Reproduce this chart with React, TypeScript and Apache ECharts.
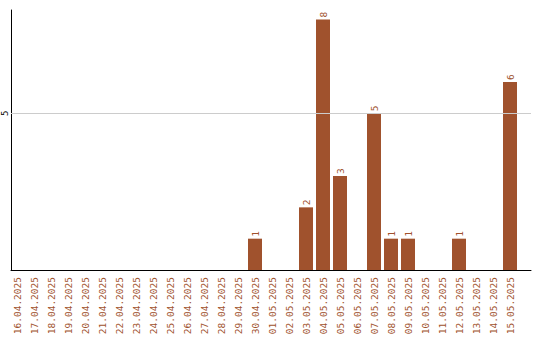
import React, { useEffect, useRef } from "react";
import * as echarts from "echarts";

const categories = [
  "16.04.2025", "17.04.2025", "18.04.2025", "19.04.2025", "20.04.2025",
  "21.04.2025", "22.04.2025", "23.04.2025", "24.04.2025", "25.04.2025",
  "26.04.2025", "27.04.2025", "28.04.2025", "29.04.2025", "30.04.2025",
  "01.05.2025", "02.05.2025", "03.05.2025", "04.05.2025", "05.05.2025",
  "06.05.2025", "07.05.2025", "08.05.2025", "09.05.2025", "10.05.2025",
  "11.05.2025", "12.05.2025", "13.05.2025", "14.05.2025", "15.05.2025",
];
const values = [
  0, 0, 0, 0, 0, 0, 0, 0, 0, 0, 0, 0, 0, 0, 1,
  0, 0, 2, 8, 3, 0, 5, 1, 1, 0, 0, 1, 0, 0, 6,
];
const yMax = 8.3;
const yTickLabels = [5];

const BROWN = "#A0522D";
const FONT = "DejaVu Sans Mono";

export default function App() {
  const ref = useRef<HTMLDivElement>(null);
  useEffect(() => {
    if (!ref.current) return;
    const chart = echarts.init(ref.current, null, { renderer: "svg" });
    chart.setOption({
      animation: false,
      backgroundColor: "#ffffff",
      grid: [
        { left: 11, right: 9, top: 10, bottom: 70 },
        { left: 8.5, width: 510, top: 10, bottom: 70 },
      ],
      xAxis: [
        {
          gridIndex: 0,
          type: "value",
          min: 0,
          max: 1,
          axisLine: { show: true, lineStyle: { color: "#000", width: 1 } },
          axisTick: { show: false },
          axisLabel: { show: false },
          splitLine: { show: false },
        },
        {
          gridIndex: 1,
          type: "category",
          data: categories,
          axisLine: { show: false },
          axisTick: { show: false },
          splitLine: { show: false },
          axisLabel: {
            interval: 0,
            rotate: 90,
            margin: 7,
            color: BROWN,
            fontFamily: FONT,
            fontSize: 9.5,
          },
        },
      ],
      yAxis: [
        {
          gridIndex: 0,
          type: "value",
          min: 0,
          max: yMax,
          interval: 5,
          axisLine: { show: true, lineStyle: { color: "#000", width: 1 } },
          axisTick: { show: false },
          splitLine: { show: false },
          axisLabel: {
            rotate: 90,
            margin: 2,
            color: "#000",
            fontFamily: FONT,
            fontSize: 9,
            formatter: (v: number) => (yTickLabels.includes(v) ? String(v) : ""),
          },
        },
        {
          gridIndex: 1,
          type: "value",
          min: 0,
          max: yMax,
          show: false,
        },
      ],
      series: [
        {
          type: "line",
          xAxisIndex: 0,
          yAxisIndex: 0,
          data: [],
          silent: true,
          markLine: {
            silent: true,
            symbol: "none",
            label: { show: false },
            lineStyle: { color: "#cccccc", width: 1, type: "solid" },
            data: yTickLabels.map((v) => ({ yAxis: v })),
          },
        },
        {
          type: "bar",
          xAxisIndex: 1,
          yAxisIndex: 1,
          data: values,
          barWidth: 14,
          z: 3,
          itemStyle: { color: BROWN },
          label: {
            show: true,
            position: "top",
            rotate: 90,
            align: "left",
            verticalAlign: "middle",
            distance: 2,
            color: BROWN,
            fontFamily: FONT,
            fontSize: 9.5,
            formatter: (p: any) => (p.value ? String(p.value) : ""),
          },
        },
      ],
    });
    return () => chart.dispose();
  }, []);
  return (
    <div
      ref={ref}
      style={{ position: "fixed", left: 0, top: 0, width: 540, height: 340 }}
    />
  );
}
